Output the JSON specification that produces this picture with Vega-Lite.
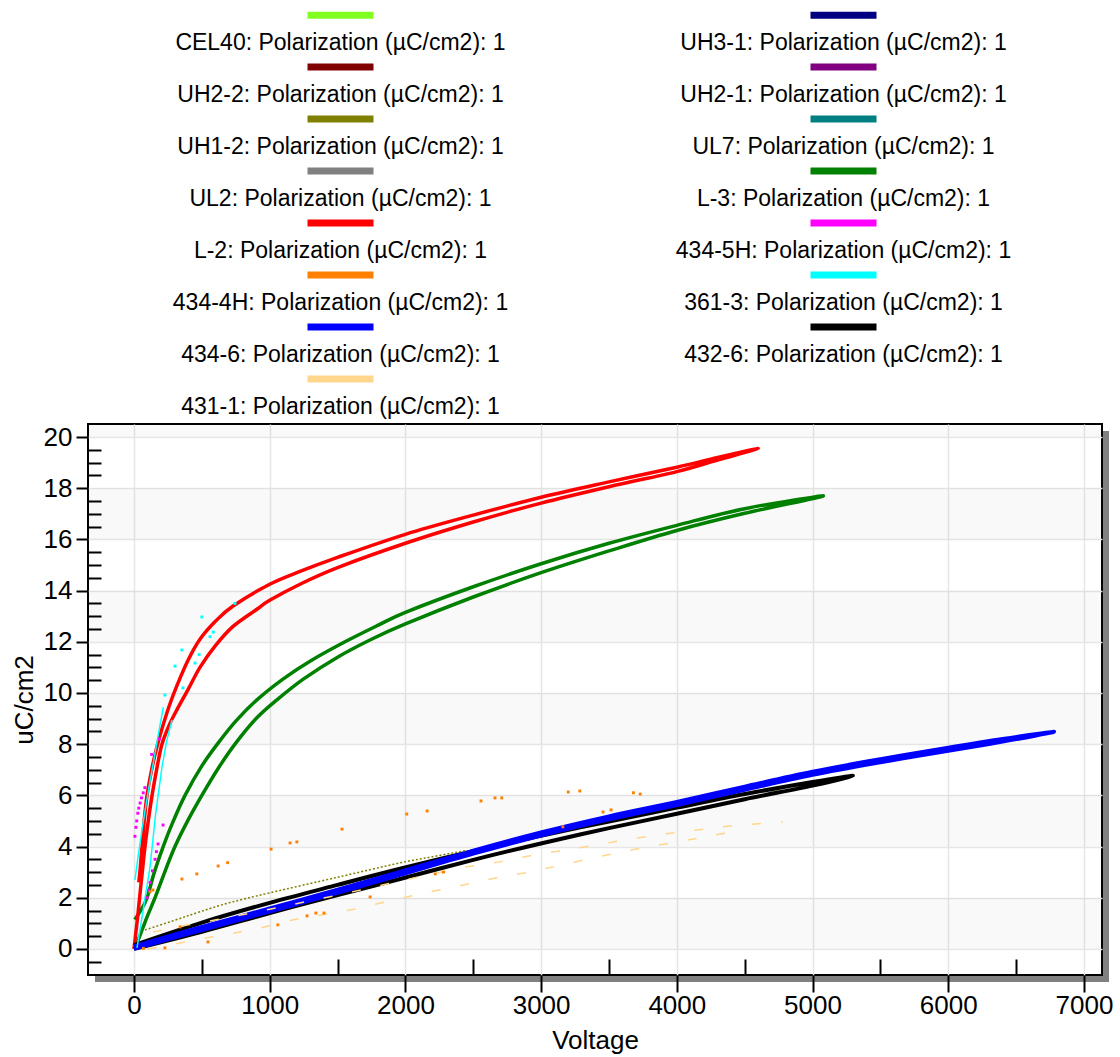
{
  "$schema": "https://vega.github.io/schema/vega-lite/v6.json",
  "width": 1014,
  "height": 551,
  "autosize": {"type": "none"},
  "padding": {"left": 88, "top": 424, "right": 18, "bottom": 82},
  "background": "white",
  "config": {"font": "Liberation Sans", "view": {"stroke": "black", "strokeWidth": 2}},
  "datasets": {
    "bands": [
      {"lo": 0, "hi": 2}, {"lo": 4, "hi": 6}, {"lo": 8, "hi": 10}, {"lo": 12, "hi": 14}, {"lo": 16, "hi": 18}, {"lo": 20, "hi": 22}
    ],
    "curves": [
      {"s":"L-3","g":"1","v":0,"p":0},{"s":"L-3","g":"1","v":22,"p":0.23},{"s":"L-3","g":"1","v":60,"p":0.75},{"s":"L-3","g":"1","v":100,"p":1.3},{"s":"L-3","g":"1","v":155,"p":2.0},{"s":"L-3","g":"1","v":230,"p":3.05},{"s":"L-3","g":"1","v":302,"p":4.0},{"s":"L-3","g":"1","v":400,"p":5.05},{"s":"L-3","g":"1","v":500,"p":6.0},{"s":"L-3","g":"1","v":620,"p":7.05},{"s":"L-3","g":"1","v":744,"p":8.0},{"s":"L-3","g":"1","v":900,"p":9.0},{"s":"L-3","g":"1","v":1053,"p":9.73},{"s":"L-3","g":"1","v":1250,"p":10.55},{"s":"L-3","g":"1","v":1500,"p":11.4},{"s":"L-3","g":"1","v":1750,"p":12.1},{"s":"L-3","g":"1","v":2000,"p":12.7},{"s":"L-3","g":"1","v":2500,"p":13.75},{"s":"L-3","g":"1","v":3000,"p":14.7},{"s":"L-3","g":"1","v":3500,"p":15.55},{"s":"L-3","g":"1","v":4000,"p":16.35},{"s":"L-3","g":"1","v":4500,"p":17.02},{"s":"L-3","g":"1","v":5080,"p":17.7},
      {"s":"L-3","g":"1","v":4500,"p":17.2},{"s":"L-3","g":"1","v":4000,"p":16.55},{"s":"L-3","g":"1","v":3500,"p":15.85},{"s":"L-3","g":"1","v":3000,"p":15.05},{"s":"L-3","g":"1","v":2500,"p":14.15},{"s":"L-3","g":"1","v":2000,"p":13.15},{"s":"L-3","g":"1","v":1800,"p":12.65},{"s":"L-3","g":"1","v":1555,"p":12.0},{"s":"L-3","g":"1","v":1300,"p":11.25},{"s":"L-3","g":"1","v":1100,"p":10.55},{"s":"L-3","g":"1","v":906,"p":9.73},{"s":"L-3","g":"1","v":750,"p":8.9},{"s":"L-3","g":"1","v":621,"p":8.05},{"s":"L-3","g":"1","v":500,"p":7.15},{"s":"L-3","g":"1","v":376,"p":6.0},{"s":"L-3","g":"1","v":290,"p":5.0},{"s":"L-3","g":"1","v":215,"p":4.0},{"s":"L-3","g":"1","v":150,"p":3.0},{"s":"L-3","g":"1","v":96,"p":2.0},{"s":"L-3","g":"1","v":50,"p":1.5},{"s":"L-3","g":"1","v":5,"p":1.15},
      {"s":"L-2","g":"1","v":0,"p":0},{"s":"L-2","g":"1","v":15,"p":0.7},{"s":"L-2","g":"1","v":30,"p":1.4},{"s":"L-2","g":"1","v":45,"p":2.2},{"s":"L-2","g":"1","v":60,"p":2.95},{"s":"L-2","g":"1","v":81,"p":4.0},{"s":"L-2","g":"1","v":105,"p":5.0},{"s":"L-2","g":"1","v":133,"p":6.0},{"s":"L-2","g":"1","v":170,"p":7.1},{"s":"L-2","g":"1","v":206,"p":8.0},{"s":"L-2","g":"1","v":260,"p":8.75},{"s":"L-2","g":"1","v":317,"p":9.35},{"s":"L-2","g":"1","v":400,"p":10.15},{"s":"L-2","g":"1","v":486,"p":11.0},{"s":"L-2","g":"1","v":600,"p":11.85},{"s":"L-2","g":"1","v":730,"p":12.6},{"s":"L-2","g":"1","v":900,"p":13.25},{"s":"L-2","g":"1","v":1000,"p":13.62},{"s":"L-2","g":"1","v":1223,"p":14.25},{"s":"L-2","g":"1","v":1500,"p":14.9},{"s":"L-2","g":"1","v":2000,"p":15.85},{"s":"L-2","g":"1","v":2500,"p":16.68},{"s":"L-2","g":"1","v":3000,"p":17.42},{"s":"L-2","g":"1","v":3500,"p":18.06},{"s":"L-2","g":"1","v":4000,"p":18.65},{"s":"L-2","g":"1","v":4300,"p":19.1},{"s":"L-2","g":"1","v":4600,"p":19.55},
      {"s":"L-2","g":"1","v":4300,"p":19.2},{"s":"L-2","g":"1","v":4000,"p":18.82},{"s":"L-2","g":"1","v":3500,"p":18.25},{"s":"L-2","g":"1","v":3000,"p":17.65},{"s":"L-2","g":"1","v":2500,"p":16.95},{"s":"L-2","g":"1","v":2000,"p":16.2},{"s":"L-2","g":"1","v":1500,"p":15.3},{"s":"L-2","g":"1","v":1223,"p":14.75},{"s":"L-2","g":"1","v":1000,"p":14.25},{"s":"L-2","g":"1","v":730,"p":13.4},{"s":"L-2","g":"1","v":600,"p":12.8},{"s":"L-2","g":"1","v":486,"p":12.1},{"s":"L-2","g":"1","v":400,"p":11.3},{"s":"L-2","g":"1","v":317,"p":10.3},{"s":"L-2","g":"1","v":260,"p":9.5},{"s":"L-2","g":"1","v":206,"p":8.6},{"s":"L-2","g":"1","v":169,"p":7.9},{"s":"L-2","g":"1","v":130,"p":7.0},{"s":"L-2","g":"1","v":96,"p":6.0},{"s":"L-2","g":"1","v":75,"p":5.0},{"s":"L-2","g":"1","v":59,"p":4.0},{"s":"L-2","g":"1","v":45,"p":3.1},{"s":"L-2","g":"1","v":35,"p":2.6},
      {"s":"432-6","g":"1","v":0,"p":0},{"s":"432-6","g":"1","v":500,"p":0.67},{"s":"432-6","g":"1","v":1000,"p":1.4},{"s":"432-6","g":"1","v":1500,"p":2.1},{"s":"432-6","g":"1","v":1960,"p":2.73},{"s":"432-6","g":"1","v":2500,"p":3.48},{"s":"432-6","g":"1","v":3006,"p":4.13},{"s":"432-6","g":"1","v":3500,"p":4.72},{"s":"432-6","g":"1","v":4000,"p":5.28},{"s":"432-6","g":"1","v":4500,"p":5.85},{"s":"432-6","g":"1","v":5000,"p":6.38},{"s":"432-6","g":"1","v":5298,"p":6.76},
      {"s":"432-6","g":"1","v":5000,"p":6.52},{"s":"432-6","g":"1","v":4500,"p":6.05},{"s":"432-6","g":"1","v":4000,"p":5.52},{"s":"432-6","g":"1","v":3500,"p":4.98},{"s":"432-6","g":"1","v":3006,"p":4.43},{"s":"432-6","g":"1","v":2500,"p":3.82},{"s":"432-6","g":"1","v":1960,"p":3.13},{"s":"432-6","g":"1","v":1500,"p":2.5},{"s":"432-6","g":"1","v":1000,"p":1.8},{"s":"432-6","g":"1","v":500,"p":1.03},{"s":"432-6","g":"1","v":0,"p":0.15},
      {"s":"434-6","g":"1","v":0,"p":0},{"s":"434-6","g":"1","v":500,"p":0.74},{"s":"434-6","g":"1","v":1000,"p":1.46},{"s":"434-6","g":"1","v":1500,"p":2.19},{"s":"434-6","g":"1","v":1960,"p":2.89},{"s":"434-6","g":"1","v":2500,"p":3.72},{"s":"434-6","g":"1","v":3006,"p":4.44},{"s":"434-6","g":"1","v":3500,"p":5.06},{"s":"434-6","g":"1","v":4000,"p":5.62},{"s":"434-6","g":"1","v":4500,"p":6.22},{"s":"434-6","g":"1","v":5000,"p":6.8},{"s":"434-6","g":"1","v":5500,"p":7.29},{"s":"434-6","g":"1","v":6000,"p":7.74},{"s":"434-6","g":"1","v":6400,"p":8.1},{"s":"434-6","g":"1","v":6780,"p":8.48},
      {"s":"434-6","g":"1","v":6400,"p":8.2},{"s":"434-6","g":"1","v":6000,"p":7.86},{"s":"434-6","g":"1","v":5500,"p":7.41},{"s":"434-6","g":"1","v":5000,"p":6.92},{"s":"434-6","g":"1","v":4500,"p":6.34},{"s":"434-6","g":"1","v":4000,"p":5.74},{"s":"434-6","g":"1","v":3500,"p":5.18},{"s":"434-6","g":"1","v":3006,"p":4.56},{"s":"434-6","g":"1","v":2500,"p":3.84},{"s":"434-6","g":"1","v":1960,"p":3.01},{"s":"434-6","g":"1","v":1500,"p":2.31},{"s":"434-6","g":"1","v":1000,"p":1.58},{"s":"434-6","g":"1","v":500,"p":0.86},{"s":"434-6","g":"1","v":0,"p":0.1},
      {"s":"UH1-2","g":"1","v":81,"p":0.74},{"s":"UH1-2","g":"1","v":300,"p":1.12},{"s":"UH1-2","g":"1","v":486,"p":1.45},{"s":"UH1-2","g":"1","v":700,"p":1.8},{"s":"UH1-2","g":"1","v":1000,"p":2.19},{"s":"UH1-2","g":"1","v":1500,"p":2.8},{"s":"UH1-2","g":"1","v":1960,"p":3.36},{"s":"UH1-2","g":"1","v":2200,"p":3.6},{"s":"UH1-2","g":"1","v":2440,"p":3.84},
      {"s":"431-1","g":"a","v":140,"p":0.66},{"s":"431-1","g":"a","v":400,"p":0.94},{"s":"431-1","g":"a","v":670,"p":1.2},{"s":"431-1","g":"a","v":1000,"p":1.55},{"s":"431-1","g":"a","v":1500,"p":2.1},{"s":"431-1","g":"a","v":2000,"p":2.7},{"s":"431-1","g":"a","v":2440,"p":3.2},{"s":"431-1","g":"a","v":2690,"p":3.4},{"s":"431-1","g":"a","v":2950,"p":3.67},{"s":"431-1","g":"a","v":3190,"p":3.87},{"s":"431-1","g":"a","v":3450,"p":4.1},{"s":"431-1","g":"a","v":3660,"p":4.3},{"s":"431-1","g":"a","v":3920,"p":4.5},{"s":"431-1","g":"a","v":4150,"p":4.65},{"s":"431-1","g":"a","v":4385,"p":4.8},{"s":"431-1","g":"a","v":4780,"p":4.96},
      {"s":"431-1","g":"b","v":100,"p":0.0},{"s":"431-1","g":"b","v":200,"p":0.08},{"s":"431-1","g":"b","v":450,"p":0.35},{"s":"431-1","g":"b","v":670,"p":0.55},{"s":"431-1","g":"b","v":935,"p":0.82},{"s":"431-1","g":"b","v":1165,"p":1.13},{"s":"431-1","g":"b","v":1630,"p":1.56},{"s":"431-1","g":"b","v":1900,"p":1.9},{"s":"431-1","g":"b","v":2145,"p":2.19},{"s":"431-1","g":"b","v":2430,"p":2.5},{"s":"431-1","g":"b","v":2665,"p":2.77},{"s":"431-1","g":"b","v":2910,"p":3.0},{"s":"431-1","g":"b","v":3170,"p":3.3},{"s":"431-1","g":"b","v":3420,"p":3.6},{"s":"431-1","g":"b","v":3700,"p":3.9},{"s":"431-1","g":"b","v":3960,"p":4.14},{"s":"431-1","g":"b","v":4210,"p":4.38},{"s":"431-1","g":"b","v":4485,"p":4.65},
      {"s":"361-3","g":"a","v":7,"p":2.7},{"s":"361-3","g":"a","v":30,"p":3.6},{"s":"361-3","g":"a","v":60,"p":4.7},{"s":"361-3","g":"a","v":100,"p":6.0},{"s":"361-3","g":"a","v":140,"p":7.2},{"s":"361-3","g":"a","v":180,"p":8.4},{"s":"361-3","g":"a","v":216,"p":9.45},
      {"s":"361-3","g":"b","v":22,"p":0.04},{"s":"361-3","g":"b","v":70,"p":1.6},{"s":"361-3","g":"b","v":118,"p":3.2},{"s":"361-3","g":"b","v":160,"p":5.3},{"s":"361-3","g":"b","v":206,"p":7.1},{"s":"361-3","g":"b","v":240,"p":8.1},{"s":"361-3","g":"b","v":280,"p":8.95},
      {"s":"361-3","g":"c","v":228,"p":9.92},{"s":"361-3","g":"c","v":302,"p":11.05},{"s":"361-3","g":"c","v":353,"p":11.68},{"s":"361-3","g":"c","v":361,"p":10.2},{"s":"361-3","g":"c","v":450,"p":11.17},{"s":"361-3","g":"c","v":480,"p":11.5},{"s":"361-3","g":"c","v":560,"p":12.2},{"s":"361-3","g":"c","v":584,"p":12.38},{"s":"361-3","g":"c","v":500,"p":12.97},{"s":"361-3","g":"c","v":744,"p":13.5},
      {"s":"434-5H","g":"c","v":7,"p":4.4},{"s":"434-5H","g":"c","v":14,"p":4.75},{"s":"434-5H","g":"c","v":20,"p":5.0},{"s":"434-5H","g":"c","v":28,"p":5.3},{"s":"434-5H","g":"c","v":35,"p":5.5},{"s":"434-5H","g":"c","v":45,"p":5.7},{"s":"434-5H","g":"c","v":55,"p":5.9},{"s":"434-5H","g":"c","v":68,"p":6.1},{"s":"434-5H","g":"c","v":80,"p":6.3},{"s":"434-5H","g":"c","v":96,"p":2.0},{"s":"434-5H","g":"c","v":108,"p":2.3},{"s":"434-5H","g":"c","v":118,"p":2.6},{"s":"434-5H","g":"c","v":136,"p":3.05},{"s":"434-5H","g":"c","v":155,"p":3.5},{"s":"434-5H","g":"c","v":165,"p":3.8},{"s":"434-5H","g":"c","v":177,"p":4.1},{"s":"434-5H","g":"c","v":214,"p":4.84},{"s":"434-5H","g":"c","v":186,"p":8.2},{"s":"434-5H","g":"c","v":130,"p":7.6},
      {"s":"434-4H","g":"c","v":69,"p":0.02},{"s":"434-4H","g":"c","v":118,"p":2.23},{"s":"434-4H","g":"c","v":140,"p":2.3},{"s":"434-4H","g":"c","v":228,"p":0.04},{"s":"434-4H","g":"c","v":340,"p":0.86},{"s":"434-4H","g":"c","v":353,"p":2.73},{"s":"434-4H","g":"c","v":463,"p":2.93},{"s":"434-4H","g":"c","v":545,"p":0.27},{"s":"434-4H","g":"c","v":620,"p":3.24},{"s":"434-4H","g":"c","v":690,"p":3.37},{"s":"434-4H","g":"c","v":1010,"p":3.9},{"s":"434-4H","g":"c","v":1060,"p":0.94},{"s":"434-4H","g":"c","v":1150,"p":4.14},{"s":"434-4H","g":"c","v":1200,"p":4.18},{"s":"434-4H","g":"c","v":1275,"p":1.29},{"s":"434-4H","g":"c","v":1340,"p":1.4},{"s":"434-4H","g":"c","v":1400,"p":1.4},{"s":"434-4H","g":"c","v":1533,"p":4.68},{"s":"434-4H","g":"c","v":1740,"p":2.03},{"s":"434-4H","g":"c","v":2010,"p":5.27},{"s":"434-4H","g":"c","v":2160,"p":5.39},{"s":"434-4H","g":"c","v":2220,"p":2.93},{"s":"434-4H","g":"c","v":2280,"p":3.0},{"s":"434-4H","g":"c","v":2557,"p":5.78},{"s":"434-4H","g":"c","v":2660,"p":5.9},{"s":"434-4H","g":"c","v":2710,"p":5.9},{"s":"434-4H","g":"c","v":3160,"p":4.77},{"s":"434-4H","g":"c","v":3200,"p":6.13},{"s":"434-4H","g":"c","v":3285,"p":6.17},{"s":"434-4H","g":"c","v":3456,"p":5.35},{"s":"434-4H","g":"c","v":3515,"p":5.43},{"s":"434-4H","g":"c","v":3680,"p":6.1},{"s":"434-4H","g":"c","v":3730,"p":6.05}
    ]
  },
  "resolve": {"axis": {"x": "independent", "y": "independent"}},
  "layer": [
    {
      "data": {"name": "bands"},
      "mark": {"type": "rect", "color": "black", "opacity": 0.022, "clip": true},
      "encoding": {
        "y": {"field": "lo", "type": "quantitative", "scale": {"domain": [-1.02, 20.51], "nice": false, "zero": false},
              "axis": {"orient": "left", "values": [0,2,4,6,8,10,12,14,16,18,20], "grid": true, "gridColor": "#e6e6e6", "gridWidth": 1.5, "ticks": false, "labels": false, "domain": false, "title": null, "zindex": 0}},
        "y2": {"field": "hi"}
      }
    },
    {
      "data": {"values": [{}]},
      "mark": {"type": "rule", "color": "#808080", "strokeWidth": 6, "xOffset": 4, "yOffset": 7, "y2Offset": 7},
      "encoding": {
        "x": {"datum": 7133, "type": "quantitative", "scale": {"domain": [-339, 7133], "nice": false, "zero": false}, "axis": null},
        "y": {"datum": 20.51, "type": "quantitative", "scale": {"domain": [-1.02, 20.51], "nice": false, "zero": false}, "axis": null},
        "y2": {"datum": -1.02}
      }
    },
    {
      "data": {"values": [{}]},
      "mark": {"type": "rule", "color": "#808080", "strokeWidth": 6, "xOffset": 7, "x2Offset": 7, "yOffset": 4},
      "encoding": {
        "x": {"datum": -339, "type": "quantitative", "scale": {"domain": [-339, 7133], "nice": false, "zero": false}, "axis": null},
        "x2": {"datum": 7133},
        "y": {"datum": -1.02, "type": "quantitative", "scale": {"domain": [-1.02, 20.51], "nice": false, "zero": false}, "axis": null}
      }
    },
    {
      "data": {"name": "curves"},
      "transform": [{"filter": "datum.s == 'L-3' || datum.s == 'L-2'"}],
      "mark": {"type": "line", "strokeWidth": 3.5, "strokeJoin": "round", "interpolate": "cardinal"},
      "encoding": {
        "x": {"field": "v", "type": "quantitative", "scale": {"domain": [-339, 7133], "nice": false, "zero": false},
              "axis": {"orient": "bottom", "values": [0,1000,2000,3000,4000,5000,6000,7000], "format": "d", "tickSize": 17, "tickWidth": 2, "tickColor": "black", "domain": false, "grid": false, "labelFontSize": 26, "labelColor": "black", "labelPadding": 0, "labelFlush": false, "labelOverlap": false, "title": "Voltage", "titleFontSize": 26, "titleFontWeight": "normal", "titleColor": "black", "titlePadding": 9, "zindex": 1}},
        "y": {"field": "p", "type": "quantitative", "scale": {"domain": [-1.02, 20.51], "nice": false, "zero": false},
              "axis": {"orient": "left", "values": [0,2,4,6,8,10,12,14,16,18,20], "format": "d", "tickSize": 12, "tickWidth": 2, "tickColor": "black", "domain": false, "grid": false, "labelFontSize": 26, "labelColor": "black", "labelPadding": 4, "labelFlush": false, "labelOverlap": false, "title": "uC/cm2", "titleFontSize": 26, "titleFontWeight": "normal", "titleColor": "black", "titlePadding": 6, "zindex": 1}},
        "color": {"field": "s", "type": "nominal",
                  "scale": {"domain": ["CEL40","UH2-2","UH1-2","UL2","L-2","434-4H","434-6","431-1","UH3-1","UH2-1","UL7","L-3","434-5H","361-3","432-6"],
                            "range": ["#80ff20","#800000","#808000","#808080","#ff0000","#ff8000","#0000ff","#ffd68c","#000080","#800080","#008080","#008000","#ff00ff","#00ffff","#000000"]},
                  "legend": {"orient": "none", "legendX": 216, "legendY": -417.5, "columns": 2, "title": null, "padding": 0, "gridAlign": "all",
                             "symbolType": "M-6,-0.85L-6,-0.85M-1,-0.85L1,-0.85M6,-0.85L6,-0.85", "symbolSize": 4356, "symbolStrokeWidth": 7, "symbolOpacity": 1,
                             "labelFont": "Liberation Sans", "labelFontSize": 23, "labelColor": "black", "labelAlign": "center", "labelBaseline": "middle", "labelOffset": -36.5, "labelLimit": 0,
                             "labelExpr": "datum.label + ': Polarization (µC/cm2): 1'",
                             "rowPadding": -3, "columnPadding": 78}},
        "order": {"value": null}
      }
    },
    {
      "data": {"name": "curves"},
      "transform": [{"filter": "datum.s == '432-6' || datum.s == '434-6'"}],
      "mark": {"type": "line", "strokeWidth": 4, "strokeJoin": "round", "interpolate": "cardinal"},
      "encoding": {
        "x": {"field": "v", "type": "quantitative", "scale": {"domain": [-339, 7133], "nice": false, "zero": false}, "axis": null},
        "y": {"field": "p", "type": "quantitative", "scale": {"domain": [-1.02, 20.51], "nice": false, "zero": false}, "axis": null},
        "color": {"field": "s", "type": "nominal",
                  "scale": {"domain": ["CEL40","UH2-2","UH1-2","UL2","L-2","434-4H","434-6","431-1","UH3-1","UH2-1","UL7","L-3","434-5H","361-3","432-6"],
                            "range": ["#80ff20","#800000","#808000","#808080","#ff0000","#ff8000","#0000ff","#ffd68c","#000080","#800080","#008080","#008000","#ff00ff","#00ffff","#000000"]}},
        "order": {"value": null}
      }
    },
    {
      "data": {"name": "curves"},
      "transform": [{"filter": "datum.s == 'UH1-2'"}],
      "mark": {"type": "line", "strokeWidth": 1.5, "strokeDash": [2, 2], "interpolate": "cardinal"},
      "encoding": {
        "x": {"field": "v", "type": "quantitative", "scale": {"domain": [-339, 7133], "nice": false, "zero": false},
              "axis": {"orient": "bottom", "values": [0,1000,2000,3000,4000,5000,6000,7000], "grid": true, "gridColor": "#e6e6e6", "gridWidth": 1.5, "ticks": false, "labels": false, "domain": false, "title": null, "zindex": 0}},
        "y": {"field": "p", "type": "quantitative", "scale": {"domain": [-1.02, 20.51], "nice": false, "zero": false}, "axis": null},
        "color": {"field": "s", "type": "nominal",
                  "scale": {"domain": ["CEL40","UH2-2","UH1-2","UL2","L-2","434-4H","434-6","431-1","UH3-1","UH2-1","UL7","L-3","434-5H","361-3","432-6"],
                            "range": ["#80ff20","#800000","#808000","#808080","#ff0000","#ff8000","#0000ff","#ffd68c","#000080","#800080","#008080","#008000","#ff00ff","#00ffff","#000000"]}},
        "order": {"value": null}
      }
    },
    {
      "data": {"name": "curves"},
      "transform": [{"filter": "datum.s == '431-1'"}],
      "mark": {"type": "line", "strokeWidth": 1.5, "strokeDash": [9, 20]},
      "encoding": {
        "x": {"field": "v", "type": "quantitative", "scale": {"domain": [-339, 7133], "nice": false, "zero": false},
              "axis": {"orient": "bottom", "values": [500,1500,2500,3500,4500,5500,6500], "tickSize": -16, "tickWidth": 2, "tickColor": "black", "labels": false, "domain": false, "grid": false, "title": null, "zindex": 1}},
        "y": {"field": "p", "type": "quantitative", "scale": {"domain": [-1.02, 20.51], "nice": false, "zero": false},
              "axis": {"orient": "left", "values": [-0.5,0.5,1,1.5,2.5,3,3.5,4.5,5,5.5,6.5,7,7.5,8.5,9,9.5,10.5,11,11.5,12.5,13,13.5,14.5,15,15.5,16.5,17,17.5,18.5,19,19.5], "tickSize": -13, "tickWidth": 2, "tickColor": "black", "labels": false, "domain": false, "grid": false, "title": null, "zindex": 1}},
        "color": {"field": "s", "type": "nominal",
                  "scale": {"domain": ["CEL40","UH2-2","UH1-2","UL2","L-2","434-4H","434-6","431-1","UH3-1","UH2-1","UL7","L-3","434-5H","361-3","432-6"],
                            "range": ["#80ff20","#800000","#808000","#808080","#ff0000","#ff8000","#0000ff","#ffd68c","#000080","#800080","#008080","#008000","#ff00ff","#00ffff","#000000"]}},
        "detail": {"field": "g"},
        "order": {"value": null}
      }
    },
    {
      "data": {"name": "curves"},
      "transform": [{"filter": "datum.s == '361-3' && datum.g != 'c'"}],
      "mark": {"type": "line", "strokeWidth": 1.5},
      "encoding": {
        "x": {"field": "v", "type": "quantitative", "scale": {"domain": [-339, 7133], "nice": false, "zero": false}, "axis": null},
        "y": {"field": "p", "type": "quantitative", "scale": {"domain": [-1.02, 20.51], "nice": false, "zero": false}, "axis": null},
        "color": {"field": "s", "type": "nominal",
                  "scale": {"domain": ["CEL40","UH2-2","UH1-2","UL2","L-2","434-4H","434-6","431-1","UH3-1","UH2-1","UL7","L-3","434-5H","361-3","432-6"],
                            "range": ["#80ff20","#800000","#808000","#808080","#ff0000","#ff8000","#0000ff","#ffd68c","#000080","#800080","#008080","#008000","#ff00ff","#00ffff","#000000"]}},
        "detail": {"field": "g"},
        "order": {"value": null}
      }
    },
    {
      "data": {"name": "curves"},
      "transform": [{"filter": "datum.g == 'c'"}],
      "mark": {"type": "point", "shape": "square", "filled": false, "size": 2, "strokeWidth": 1.5, "opacity": 1},
      "encoding": {
        "x": {"field": "v", "type": "quantitative", "scale": {"domain": [-339, 7133], "nice": false, "zero": false}, "axis": null},
        "y": {"field": "p", "type": "quantitative", "scale": {"domain": [-1.02, 20.51], "nice": false, "zero": false}, "axis": null},
        "color": {"field": "s", "type": "nominal",
                  "scale": {"domain": ["CEL40","UH2-2","UH1-2","UL2","L-2","434-4H","434-6","431-1","UH3-1","UH2-1","UL7","L-3","434-5H","361-3","432-6"],
                            "range": ["#80ff20","#800000","#808000","#808080","#ff0000","#ff8000","#0000ff","#ffd68c","#000080","#800080","#008080","#008000","#ff00ff","#00ffff","#000000"]}}
      }
    }
  ]
}
